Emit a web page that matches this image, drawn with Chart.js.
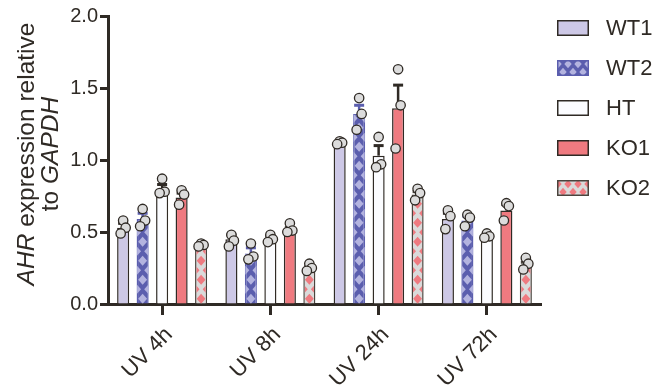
<!DOCTYPE html>
<html>
<head>
<meta charset="utf-8">
<script src="https://cdn.jsdelivr.net/npm/chart.js@4/dist/chart.umd.min.js"></script>
<style>
  html, body { margin: 0; padding: 0; background: #ffffff; }
</style>
</head>
<body>
<canvas id="chart" width="656" height="387"></canvas>
<script>
const ink = '#2f2a25';
const font = '"Liberation Sans", Arial, Helvetica, sans-serif';

const categories = ['UV 4h', 'UV 8h', 'UV 24h', 'UV 72h'];
const groups = ['WT1', 'WT2', 'HT', 'KO1', 'KO2'];
const yTicks = [0, 0.5, 1.0, 1.5, 2.0];

// bar height (mean), one value per time point
const wt1Mean = [0.53, 0.45, 1.12, 0.59];
const wt2Mean = [0.59, 0.35, 1.32, 0.58];
const htMean = [0.80, 0.45, 1.03, 0.47];
const ko1Mean = [0.74, 0.51, 1.36, 0.65];
const ko2Mean = [0.41, 0.24, 0.76, 0.27];

// upper error bar (SEM)
const wt1Sem = [0.03, 0.03, 0.01, 0.04];
const wt2Sem = [0.04, 0.04, 0.06, 0.03];
const htSem = [0.03, 0.02, 0.07, 0.01];
const ko1Sem = [0.03, 0.02, 0.16, 0.04];
const ko2Sem = [0.01, 0.02, 0.02, 0.02];

// individual replicates
const wt1Reps = [[0.58, 0.53, 0.49], [0.48, 0.44, 0.40], [1.13, 1.12, 1.11], [0.65, 0.61, 0.52]];
const wt2Reps = [[0.66, 0.58, 0.54], [0.42, 0.33, 0.31], [1.43, 1.32, 1.21], [0.62, 0.60, 0.54]];
const htReps = [[0.87, 0.78, 0.77], [0.48, 0.45, 0.43], [1.16, 0.97, 0.95], [0.49, 0.47, 0.46]];
const ko1Reps = [[0.79, 0.76, 0.69], [0.56, 0.51, 0.50], [1.63, 1.38, 1.08], [0.70, 0.68, 0.58]];
const ko2Reps = [[0.42, 0.41, 0.40], [0.28, 0.25, 0.23], [0.80, 0.77, 0.72], [0.32, 0.28, 0.24]];

const means = [wt1Mean, wt2Mean, htMean, ko1Mean, ko2Mean];
const sems = [wt1Sem, wt2Sem, htSem, ko1Sem, ko2Sem];
const reps = [wt1Reps, wt2Reps, htReps, ko1Reps, ko2Reps];

const looks = [
  { fill: '#cdc8e6', border: ink },
  { fill: '#5b5eae', border: '#5b5eae', dots: '#b3b3df' },
  { fill: '#fbfcff', border: ink },
  { fill: '#ef7a80', border: ink },
  { fill: '#dadada', border: '#4a443e', dots: '#ef7a80' }
];
const jitter = [0, 2.5, -2.5];

// staggered diamond fill (centre column and edges alternate row by row)
function diamonds(ctx, left, top, w, h, colour, px, py) {
  ctx.save();
  ctx.beginPath();
  ctx.rect(left, top, w, h);
  ctx.clip();
  ctx.fillStyle = colour;
  const hw = px * 0.37, hh = py * 0.26;
  const cx = left + w / 2;
  const cols = Math.ceil(w / px) + 2;
  let r = 0;
  for (let yy = top + h - py / 4; yy > top - py; yy -= py / 2, r++) {
    for (let k = -cols; k <= cols; k++) {
      if ((k + r) % 2 !== 0) continue;
      const xx = cx + k * px / 2;
      ctx.beginPath();
      ctx.moveTo(xx, yy - hh);
      ctx.lineTo(xx + hw, yy);
      ctx.lineTo(xx, yy + hh);
      ctx.lineTo(xx - hw, yy);
      ctx.closePath();
      ctx.fill();
    }
  }
  ctx.restore();
}

const decor = {
  id: 'decor',
  afterDatasetsDraw(chart) {
    const ctx = chart.ctx;
    const y = chart.scales.y;
    // patterns and error bars
    chart.data.datasets.forEach((ds, di) => {
      const look = looks[di];
      chart.getDatasetMeta(di).data.forEach((bar, i) => {
        const left = bar.x - bar.width / 2, right = bar.x + bar.width / 2;
        if (look.dots) {
          const inset = look.border === look.fill ? 0.5 : 1.5;
          diamonds(ctx, left + inset, bar.y + inset, right - left - 2 * inset, bar.base - bar.y - inset, look.dots, bar.width, 19);
        }
        const top = y.getPixelForValue(ds.data[i] + sems[di][i]);
        ctx.save();
        ctx.strokeStyle = look.border;
        ctx.lineWidth = 2.5;
        ctx.beginPath();
        ctx.moveTo(bar.x, bar.y);
        ctx.lineTo(bar.x, top);
        ctx.stroke();
        ctx.lineWidth = 3;
        ctx.beginPath();
        ctx.moveTo(bar.x - 5, top);
        ctx.lineTo(bar.x + 5, top);
        ctx.stroke();
        ctx.restore();
      });
    });
    // replicate dots on top
    chart.data.datasets.forEach((ds, di) => {
      chart.getDatasetMeta(di).data.forEach((bar, i) => {
        reps[di][i].forEach((v, k) => {
          ctx.save();
          ctx.beginPath();
          ctx.arc(bar.x + jitter[k], y.getPixelForValue(v), 4.7, 0, Math.PI * 2);
          ctx.fillStyle = '#dcdcdc';
          ctx.fill();
          ctx.lineWidth = 1.3;
          ctx.strokeStyle = ink;
          ctx.stroke();
          ctx.restore();
        });
      });
    });
  },
  afterDraw(chart) {
    const ctx = chart.ctx;
    const area = chart.chartArea;
    // legend
    ctx.save();
    groups.forEach((g, i) => {
      const look = looks[i];
      const cy = area.top + 12 + i * 40;
      const bx = area.right + 16;
      ctx.fillStyle = look.fill;
      ctx.fillRect(bx, cy - 8, 32, 16);
      if (look.dots) diamonds(ctx, bx, cy - 8, 32, 16, look.dots, 10, 16);
      ctx.strokeStyle = look.border;
      ctx.lineWidth = 1.5;
      ctx.strokeRect(bx + 0.75, cy - 7.25, 30.5, 14.5);
      ctx.fillStyle = ink;
      ctx.font = '22px ' + font;
      ctx.textAlign = 'left';
      ctx.textBaseline = 'middle';
      ctx.fillText(g, bx + 49, cy + 1);
    });
    ctx.restore();

    // y axis title, gene names in italics
    const cy = (area.top + area.bottom) / 2 - 6;
    const lines = [
      { x: 34, parts: [['AHR', 'italic '], [' expression relative', '']] },
      { x: 58, parts: [['to ', ''], ['GAPDH', 'italic ']] }
    ];
    ctx.save();
    ctx.fillStyle = ink;
    ctx.textBaseline = 'alphabetic';
    ctx.textAlign = 'left';
    lines.forEach(line => {
      let total = 0;
      line.parts.forEach(p => { ctx.font = p[1] + '24.5px ' + font; total += ctx.measureText(p[0]).width; });
      ctx.save();
      ctx.translate(line.x, cy);
      ctx.rotate(-Math.PI / 2);
      let pos = -total / 2;
      line.parts.forEach(p => {
        ctx.font = p[1] + '24.5px ' + font;
        ctx.fillText(p[0], pos, 0);
        pos += ctx.measureText(p[0]).width;
      });
      ctx.restore();
    });
    ctx.restore();
  }
};

new Chart(document.getElementById('chart'), {
  type: 'bar',
  data: {
    labels: categories,
    datasets: groups.map((g, i) => ({
      label: g,
      data: means[i],
      backgroundColor: looks[i].fill,
      borderColor: looks[i].border,
      borderWidth: 1.5,
      barPercentage: 0.62,
      categoryPercentage: 0.9
    }))
  },
  options: {
    responsive: false,
    animation: false,
    devicePixelRatio: 1,
    layout: { padding: { top: 16, right: 115, left: 0, bottom: 0 } },
    plugins: { legend: { display: false }, tooltip: { enabled: false } },
    scales: {
      x: {
        grid: { offset: false, drawOnChartArea: false, drawTicks: true, tickLength: 11, tickWidth: 3, tickColor: ink },
        border: { display: true, color: ink, width: 3 },
        ticks: { minRotation: 45, maxRotation: 45, color: ink, padding: 7, labelOffset: 7, font: { family: font, size: 22 } },
        afterFit(s) { s.height = 83; }
      },
      y: {
        min: 0,
        max: 2,
        afterBuildTicks(s) { s.ticks = yTicks.map(v => ({ value: v })); },
        grid: { drawOnChartArea: false, drawTicks: true, tickLength: 8, tickWidth: 3, tickColor: ink },
        border: { display: true, color: ink, width: 3 },
        ticks: { color: ink, padding: 2, font: { family: font, size: 20 }, callback: v => v.toFixed(1) },
        afterFit(s) { s.width = 108; }
      }
    }
  },
  plugins: [decor]
});
</script>
</body>
</html>
